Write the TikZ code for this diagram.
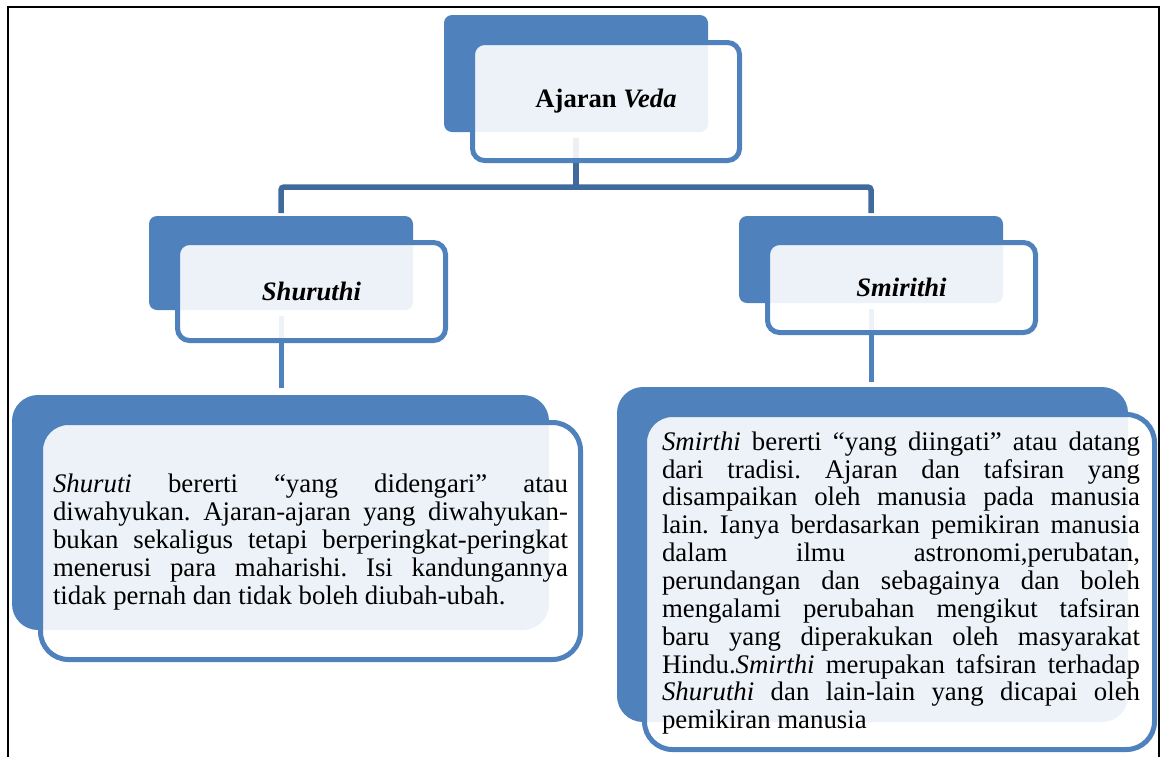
\documentclass[tikz,border=0pt]{standalone}
\usepackage{fontspec}
\setmainfont{Liberation Serif}
\usetikzlibrary{calc}
\definecolor{accent}{HTML}{4F81BD}
\definecolor{connblue}{HTML}{3F6A9B}
\newcommand{\bodysetup}{\frenchspacing\tolerance=10000\relax\hyphenpenalty=10000\relax\exhyphenpenalty=10000\relax}
\tikzset{
  backbox/.style={draw=none, fill=accent, rectangle, inner sep=0pt, outer sep=0pt},
  frontbox/.style={draw=accent, line width=2.5pt, fill=white, fill opacity=0.9, text opacity=1, draw opacity=1,
    rectangle, inner sep=0pt, outer sep=0pt, text=black},
  titletext/.style={font=\fontsize{13.3}{15}\selectfont\bfseries},
  bodytext/.style={font=\fontsize{13.4}{13.93}\selectfont\bodysetup, align=justify, inner xsep=0pt},
  topconn/.style={draw=connblue, line width=2.75pt, rounded corners=1.5pt},
  subconn/.style={draw=accent, line width=2.5pt},
  frameline/.style={draw=black, line width=1pt}
}
\begin{document}
\begin{tikzpicture}[x=0.5pt, y=-0.5pt]
\useasboundingbox (0,0) rectangle (1160,757);
% frame
\draw[frameline] (8,757) -- (8,7) -- (1159,7) -- (1159,757);

% back boxes
\node[backbox, minimum width=132pt, minimum height=58.5pt, rounded corners=4pt] (vBack) at (576,73.5) {};
\node[backbox, minimum width=132pt, minimum height=47pt, rounded corners=4pt] (sBack) at (281,263) {};
\node[backbox, minimum width=132pt, minimum height=43.5pt, rounded corners=4pt] (mBack) at (871,259.5) {};
\node[backbox, minimum width=268.5pt, minimum height=117.5pt, rounded corners=13pt] (lBack) at (280.5,512.5) {};
\node[backbox, minimum width=255.5pt, minimum height=167.5pt, rounded corners=13pt] (rBack) at (872.5,554.5) {};

% connectors
\coordinate (split) at ($(vBack.south)+(0,55)$);
\draw[topconn] ($(vBack.south)+(0,6)$) -- (split);
\draw[topconn] (split) -| ($(sBack.north)+(0,-3)$);
\draw[topconn] (split) -| ($(mBack.north)+(0,-3)$);
\draw[subconn] ($(sBack.south)+(0,6)$) -- ($(sBack.south |- lBack.north)+(0,-7)$);
\draw[subconn] ($(mBack.south)+(0,6)$) -- ($(mBack.south |- rBack.north)+(0,-5)$);

% front boxes
\node[frontbox, titletext, minimum width=133.5pt, minimum height=59pt, rounded corners=6pt] (vFront) at (606,101.5) {Ajaran \textit{Veda}};
\node[frontbox, titletext, minimum width=134pt, minimum height=49pt, rounded corners=6pt] (sFront) at (311.5,291.5) {\textit{Shuruthi}};
\node[frontbox, titletext, minimum width=134pt, minimum height=45pt, rounded corners=6pt] (mFront) at (901.5,287.5) {\textit{Smirithi}};
\node[frontbox, minimum width=270pt, minimum height=118.5pt, rounded corners=14pt] (lFront) at (310.5,541) {};
\node[frontbox, minimum width=255pt, minimum height=167.5pt, rounded corners=14pt] (rFront) at (899.5,582) {};

% body texts
\node[bodytext, text width=257.5pt] (lText) at ($(lFront.center)+(0,1)$) {%
\textit{Shuruti} bererti “yang didengari” atau\linebreak
diwahyukan. Ajaran-ajaran yang diwahyukan-\linebreak
bukan sekaligus tetapi berperingkat-peringkat\linebreak
menerusi para maharishi. Isi kandungannya\linebreak
tidak pernah dan tidak boleh diubah-ubah.};
\node[bodytext, text width=239pt] (rText) at ($(rFront.center)+(1.5,1)$) {%
\textit{Smirthi} bererti “yang diingati” atau datang\linebreak
dari tradisi. Ajaran dan tafsiran yang\linebreak
disampaikan oleh manusia pada manusia\linebreak
lain. Ianya berdasarkan pemikiran manusia\linebreak
dalam ilmu astronomi,perubatan,\linebreak
perundangan dan sebagainya dan boleh\linebreak
mengalami perubahan mengikut tafsiran\linebreak
baru yang diperakukan oleh masyarakat\linebreak
Hindu.\textit{Smirthi} merupakan tafsiran terhadap\linebreak
\textit{Shuruthi} dan lain-lain yang dicapai oleh\linebreak
pemikiran manusia};
\end{tikzpicture}
\end{document}
